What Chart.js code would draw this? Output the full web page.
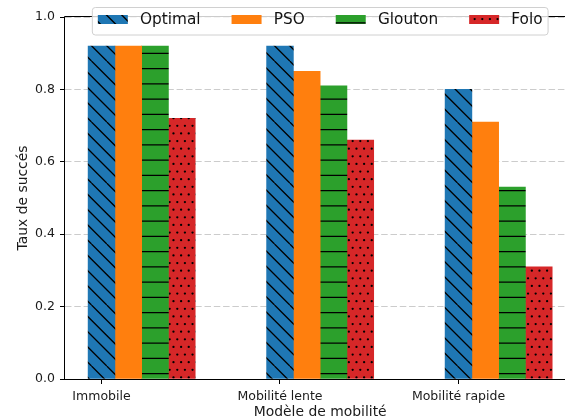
<!DOCTYPE html>
<html>
<head>
<meta charset="utf-8">
<script src="https://cdn.jsdelivr.net/npm/chart.js@4/dist/chart.umd.min.js"></script>
<style>
  html, body { margin: 0; padding: 0; background: #fff; overflow: hidden; width: 565px; height: 420px; }
  canvas { display: block; }
</style>
</head>
<body>
<canvas id="chart" width="580" height="420"></canvas>
<script>
// Success rate per mobility model and algorithm
const categories = ['Immobile', 'Mobilité lente', 'Mobilité rapide'];
const seriesNames = ['Optimal', 'PSO', 'Glouton', 'Folo'];
const optimalValues = [0.92, 0.92, 0.80];
const psoValues     = [0.92, 0.85, 0.71];
const gloutonValues = [0.92, 0.81, 0.53];
const foloValues    = [0.72, 0.66, 0.31];
const yTickValues   = [0.0, 0.2, 0.4, 0.6, 0.8, 1.0];

const seriesValues = [optimalValues, psoValues, gloutonValues, foloValues];
const seriesColors = ['#1f77b4', '#ff7f0e', '#2ca02c', '#d62728'];
const seriesHatch  = ['backslash', 'none', 'hline', 'dots'];
const BAR_WIDTH = 0.15;   // in category units; bars of a group sit side by side

// Build a repeating fill: base colour plus a black hatch drawn on a 61px tile
function hatchPattern(color, kind) {
  const T = 61, p = T / 4;
  const tile = document.createElement('canvas');
  tile.width = T; tile.height = T;
  const g = tile.getContext('2d');
  g.fillStyle = color;
  g.fillRect(0, 0, T, T);
  g.strokeStyle = '#000';
  g.fillStyle = '#000';
  g.lineWidth = 1.3;
  if (kind === 'backslash') {
    g.beginPath();
    for (let k = -4; k <= 4; k++) {
      g.moveTo(k * p, 0);
      g.lineTo(k * p + T, T);
    }
    g.stroke();
  } else if (kind === 'hline') {
    g.beginPath();
    for (let k = 0; k < 4; k++) {
      const y = k * p + p / 2;
      g.moveTo(0, y);
      g.lineTo(T, y);
    }
    g.stroke();
  } else if (kind === 'dots') {
    const q = T / 8;
    for (let r = 0; r < 8; r++) {
      for (let c = 0; c < 8; c++) {
        const x = c * q + q / 4 + (r % 2 ? q / 2 : 0);
        const y = r * q + q / 2;
        g.beginPath();
        g.arc(x, y, 1.15, 0, Math.PI * 2);
        g.fill();
      }
    }
  }
  return g.createPattern(tile, 'repeat');
}

const datasets = seriesNames.map((name, k) => ({
  label: name,
  data: categories.map((_, i) => ({ x: i + k * BAR_WIDTH, y: seriesValues[k][i] })),
  backgroundColor: hatchPattern(seriesColors[k], seriesHatch[k]),
  borderWidth: 0,
  grouped: false,
  barPercentage: 1.0,
  categoryPercentage: 1.0
}));

// Axes frame drawn above the bars
const axesFrame = {
  id: 'axesFrame',
  afterDatasetsDraw(chart) {
    const { ctx, chartArea: a } = chart;
    const l = Math.round(a.left) - 0.5, r = Math.round(a.right) + 0.5;
    const t = Math.round(a.top) - 0.5, b = Math.round(a.bottom) + 0.5;
    ctx.save();
    ctx.strokeStyle = '#000';
    ctx.lineWidth = 1;
    ctx.beginPath();
    ctx.moveTo(l, t); ctx.lineTo(r, t); ctx.lineTo(r, b); ctx.lineTo(l, b); ctx.closePath();
    ctx.stroke();
    ctx.restore();
  }
};

// Framed legend straddling the top of the plot area, with hatched swatches
const hatchLegend = {
  id: 'hatchLegend',
  afterDraw(chart) {
    const { ctx, chartArea: a } = chart;
    const fontSize = 15.3;
    const handleW = 30, handleH = 9, textPad = 12.2, colGap = 31, pad = 5.5;
    ctx.save();
    ctx.font = fontSize + 'px "DejaVu Sans"';
    const items = chart.data.datasets.map(d => ({
      label: d.label, fill: d.backgroundColor, w: ctx.measureText(d.label).width
    }));
    const inner = items.reduce((s, it) => s + handleW + textPad + it.w, 0) + colGap * (items.length - 1);
    const boxW = inner + 2 * pad;
    const cx = (a.left + a.right) / 2;
    const left = cx - boxW / 2;
    const top = a.top - 9.5, boxH = 27.5;
    // frame
    const r = 3;
    ctx.beginPath();
    ctx.moveTo(left + r, top);
    ctx.lineTo(left + boxW - r, top);
    ctx.arcTo(left + boxW, top, left + boxW, top + r, r);
    ctx.lineTo(left + boxW, top + boxH - r);
    ctx.arcTo(left + boxW, top + boxH, left + boxW - r, top + boxH, r);
    ctx.lineTo(left + r, top + boxH);
    ctx.arcTo(left, top + boxH, left, top + boxH - r, r);
    ctx.lineTo(left, top + r);
    ctx.arcTo(left, top, left + r, top, r);
    ctx.closePath();
    ctx.fillStyle = 'rgba(255,255,255,0.8)';
    ctx.fill();
    ctx.strokeStyle = '#d0d0d0';
    ctx.lineWidth = 1;
    ctx.stroke();
    // entries
    let x = left + pad;
    const hy = a.top - 2;
    const baseY = a.top + 7.3;
    items.forEach(it => {
      ctx.fillStyle = it.fill;
      ctx.fillRect(x, hy, handleW, handleH);
      ctx.fillStyle = '#111';
      ctx.textBaseline = 'alphabetic';
      ctx.textAlign = 'left';
      ctx.fillText(it.label, x + handleW + textPad, baseY);
      x += handleW + textPad + it.w + colGap;
    });
    ctx.restore();
  }
};

Chart.defaults.font.family = '"DejaVu Sans", sans-serif';
Chart.defaults.color = '#1a1a1a';

new Chart(document.getElementById('chart'), {
  type: 'bar',
  data: { datasets },
  plugins: [axesFrame, hatchLegend],
  options: {
    responsive: false,
    animation: false,
    devicePixelRatio: 1,
    layout: { padding: { top: 17, right: 4.6, bottom: 0, left: 0 } },
    plugins: { legend: { display: false }, tooltip: { enabled: false } },
    scales: {
      x: {
        type: 'linear',
        offset: false,
        min: -0.2045,
        max: 2.655,
        afterBuildTicks(scale) {
          scale.ticks = categories.map((_, i) => ({ value: i }));
        },
        afterFit(scale) { scale.height = 41; },
        ticks: {
          autoSkip: false,
          maxRotation: 0,
          padding: 5,
          font: { size: 12.5 },
          callback: (value, index) => categories[index]
        },
        grid: {
          display: true,
          offset: false,
          drawOnChartArea: false,
          drawTicks: true,
          tickLength: 5,
          tickColor: '#000',
          tickWidth: 1
        },
        border: { display: false },
        title: {
          display: true,
          text: 'Modèle de mobilité',
          font: { size: 13.9, lineHeight: 1 },
          padding: { top: 0, bottom: 0.2 }
        }
      },
      y: {
        min: 0,
        max: 1,
        afterBuildTicks(scale) {
          scale.ticks = yTickValues.map(v => ({ value: v }));
        },
        afterFit(scale) { scale.width = 65; },
        ticks: {
          padding: 5,
          font: { size: 12.5 },
          callback: (value) => Number(value).toFixed(1)
        },
        grid: {
          display: true,
          drawOnChartArea: true,
          color: '#cccccc',
          lineWidth: 1,
          borderDash: [6.5, 2.8],
          drawTicks: true,
          tickLength: 5,
          tickColor: '#000',
          tickWidth: 1,
          tickBorderDash: []
        },
        border: { display: false, dash: [6.5, 2.8] },
        title: {
          display: true,
          text: 'Taux de succés',
          font: { size: 13.9 },
          padding: { top: 15.4, bottom: 0 }
        }
      }
    }
  }
});
</script>
</body>
</html>
